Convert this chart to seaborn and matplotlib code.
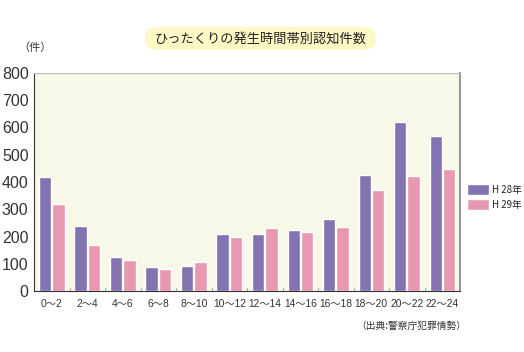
import numpy as np
import pandas as pd
import matplotlib
matplotlib.use("Agg")
import matplotlib.pyplot as plt
from matplotlib.patches import FancyBboxPatch
import seaborn as sns

hours = ["0～2", "2～4", "4～6", "6～8", "8～10", "10～12", "12～14",
         "14～16", "16～18", "18～20", "20～22", "22～24"]
h28 = [418, 238, 125, 88, 92, 209, 209, 225, 263, 426, 620, 569]
h29 = [319, 169, 114, 81, 106, 198, 231, 217, 234, 369, 421, 448]
series = ["H 28年", "H 29年"]
colors = ["#8373b0", "#e898b1"]

df = pd.DataFrame({
    "hour": hours * 2,
    "count": h28 + h29,
    "year": [series[0]] * len(hours) + [series[1]] * len(hours),
})

sns.set_style("white")
plt.rcParams["font.family"] = ["Noto Sans CJK JP", "DejaVu Sans"]

fig = plt.figure(figsize=(5.24, 3.52), dpi=100)
ax = fig.add_axes([0.065, 0.173, 0.813, 0.62])
sns.barplot(data=df, x="hour", y="count", hue="year", palette=colors,
            width=0.76, gap=0.1, ax=ax, legend=True, saturation=1)
ax.set_facecolor("#f8f8e9")
ax.set_ylim(0, 800)
ax.set_xlim(-0.5, len(hours) - 0.5)
ax.set_yticks(np.arange(0, 801, 100))
ax.set_xlabel("")
ax.set_ylabel("")
ax.tick_params(axis="y", direction="in", length=6, color="#c8c8d8",
               labelcolor="#333333", pad=4)
ax.tick_params(axis="x", length=0, labelsize=7.4, labelcolor="#333333", pad=6)
for lbl in ax.get_xticklabels():
    lbl.set_family(["Liberation Sans", "Noto Sans CJK JP"])
for lbl in ax.get_yticklabels():
    lbl.set_family(["Liberation Sans"])
    lbl.set_fontsize(11.5)
for s in [i + 0.5 for i in range(len(hours) - 1)]:
    ax.plot([s, s], [0, 12], color="#aaaaaa", lw=0.8)
ax.spines["left"].set_color("#333333")
ax.spines["bottom"].set_color("#333333")
ax.spines["right"].set_color("#999999")
ax.spines["right"].set_linewidth(1.5)
ax.spines["top"].set_color("#bbbbbb")

leg = ax.legend(loc="upper left", bbox_to_anchor=(1.0, 0.52), frameon=False,
                fontsize=7, handlelength=2.3, handleheight=1.3,
                handletextpad=0.3, labelspacing=0.45, borderaxespad=0.3)

fig.text(0.035, 0.855, "（件）", fontsize=8, color="#333333")
fig.text(0.68, 0.065, "（出典:警察庁犯罪情勢）", fontsize=7, color="#333333")

box = FancyBboxPatch((0.277, 0.858), 0.44, 0.065, transform=fig.transFigure,
                     boxstyle="round,pad=0,rounding_size=0.025",
                     facecolor="#fdf8c6", edgecolor="none")
fig.patches.append(box)
fig.text(0.497, 0.89, "ひったくりの発生時間帯別認知件数", ha="center", va="center",
         fontsize=9.5, color="#222222")

fig.savefig("out.png", dpi=100)
